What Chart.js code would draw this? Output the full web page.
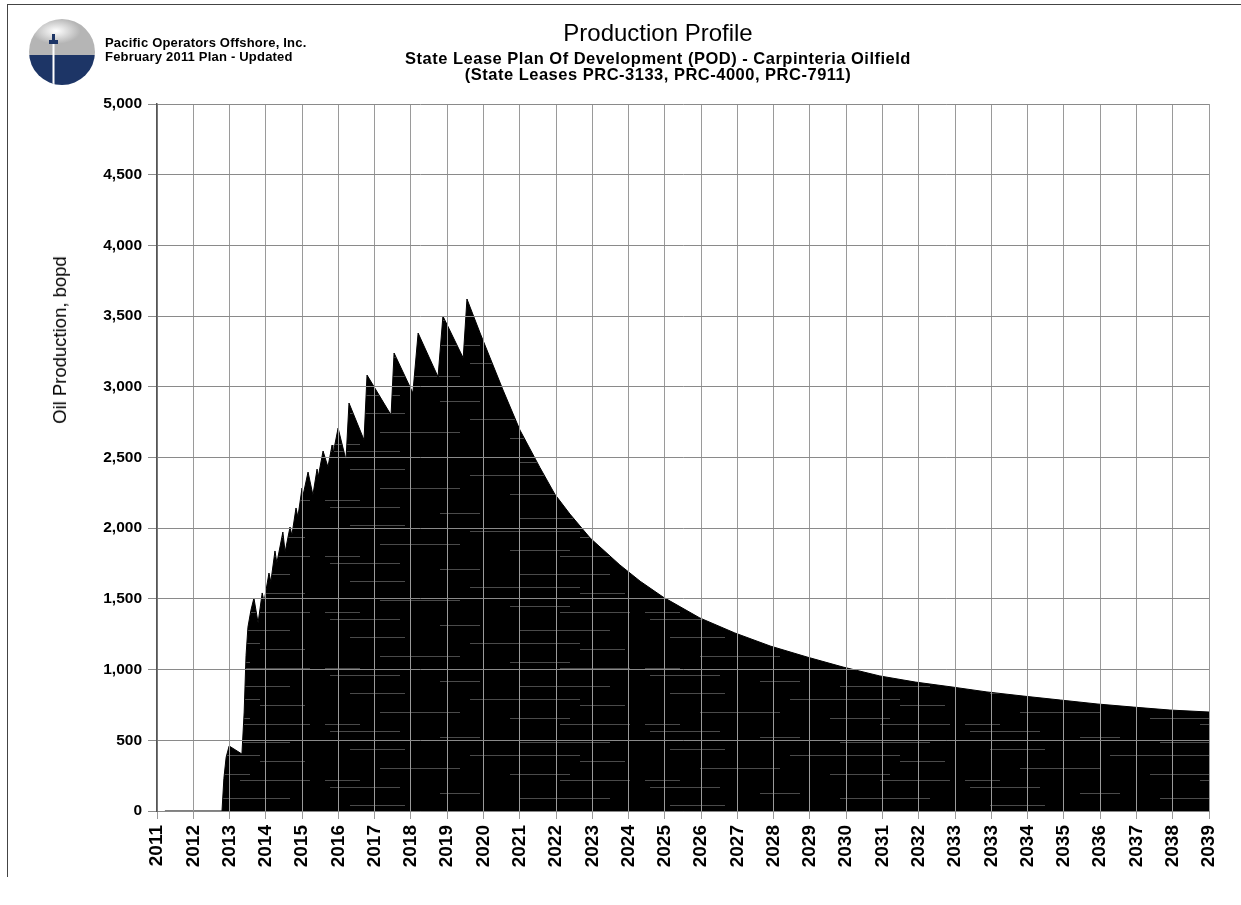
<!DOCTYPE html>
<html>
<head>
<meta charset="utf-8">
<title>Production Profile</title>
<script src="https://cdn.jsdelivr.net/npm/chart.js@4/dist/chart.umd.min.js"></script>
<style>
  html, body { margin: 0; padding: 0; background: #fff; }
  body { width: 1241px; height: 905px; position: relative; overflow: hidden;
         font-family: 'Liberation Sans', Arial, sans-serif; color: #000; }
  #frame { position: absolute; left: 7px; top: 4px; width: 1240px; height: 872px;
           border-left: 1px solid #444; border-top: 1px solid #444; }
  #chart { position: absolute; left: 0; top: 0; }
  .hdr { position: absolute; white-space: nowrap; }
  #company { left: 105px; top: 36px; font-size: 13px; font-weight: bold; line-height: 14px; letter-spacing: 0.2px; }
  #titles { left: 0; width: 1316px; top: 20px; text-align: center; }
  #titles .main { font-size: 24px; line-height: 26px; margin-bottom: 4px; }
  #titles .sub { font-size: 16.5px; font-weight: bold; line-height: 16px; letter-spacing: 0.5px; }
  #ylabel { left: 60px; top: 340px; font-size: 18.5px; transform: translate(-50%, -50%) rotate(-90deg); }
  #logo { position: absolute; left: 28px; top: 18px; }
</style>
</head>
<body>
<div id="frame"></div>
<canvas id="chart" width="1241" height="905"></canvas>

<svg id="logo" width="70" height="70" viewBox="0 0 70 70">
  <defs>
    <clipPath id="disc"><circle cx="34" cy="34" r="33"/></clipPath>
    <radialGradient id="glow" cx="0.4" cy="0.35" r="0.35">
      <stop offset="0" stop-color="#fff"/>
      <stop offset="1" stop-color="#b5b5b5"/>
    </radialGradient>
  </defs>
  <g clip-path="url(#disc)">
    <rect x="0" y="0" width="70" height="37" fill="url(#glow)"/>
    <rect x="0" y="37" width="70" height="33" fill="#1d3566"/>
    <rect x="24.5" y="24" width="2" height="44" fill="#fff"/>
    <rect x="21" y="22" width="9" height="4" fill="#1d3566"/>
    <rect x="24" y="16" width="3" height="6" fill="#1d3566"/>
  </g>
</svg>

<div class="hdr" id="company">Pacific Operators Offshore, Inc.<br>February 2011 Plan - Updated</div>
<div class="hdr" id="titles">
  <div class="main">Production Profile</div>
  <div class="sub">State Lease Plan Of Development (POD) - Carpinteria Oilfield</div>
  <div class="sub">(State Leases PRC-3133, PRC-4000, PRC-7911)</div>
</div>
<div class="hdr" id="ylabel">Oil Production, bopd</div>

<script>
// Axis tick labels as printed (the date axis repeats 2033)
const tickLabels = ['2011', '2012', '2013', '2014', '2015', '2016', '2017', '2018', '2019', '2020',
  '2021', '2022', '2023', '2024', '2025', '2026', '2027', '2028', '2029', '2030',
  '2031', '2032', '2033', '2033', '2034', '2035', '2036', '2037', '2038', '2039'];
const yTicks = [0, 500, 1000, 1500, 2000, 2500, 3000, 3500, 4000, 4500, 5000];

// Production profile (decimal year, bopd)
const years = [2011.21, 2012.73, 2012.78, 2012.84, 2012.92, 2013.26, 2013.32, 2013.37, 2013.42, 2013.50,
  2013.58, 2013.69, 2013.80, 2013.85, 2013.98, 2014.03, 2014.14, 2014.19, 2014.35, 2014.41,
  2014.54, 2014.59, 2014.70, 2014.75, 2014.86, 2014.89, 2015.02, 2015.15, 2015.26, 2015.29,
  2015.42, 2015.55, 2015.66, 2015.68, 2015.82, 2016.03, 2016.11, 2016.51, 2016.59, 2017.23,
  2017.31, 2017.81, 2017.95, 2018.48, 2018.61, 2019.15, 2019.25, 2019.60, 2020.21, 2020.66,
  2021.19, 2021.59, 2021.99, 2022.53, 2023.32, 2023.86, 2024.47, 2025.45, 2026.38, 2027.32,
  2028.30, 2029.26, 2030.24, 2031.18, 2032.16, 2033.09, 2034.05, 2035.04, 2036.02, 2036.98,
  2037.96, 2039.00];
const oilRate = [0, 0, 230, 380, 460, 403, 700, 1100, 1300, 1420,
  1506, 1330, 1542, 1480, 1683, 1620, 1839, 1754, 1973, 1832,
  2008, 1950, 2143, 2079, 2284, 2235, 2397, 2235, 2418, 2362,
  2546, 2433, 2588, 2518, 2708, 2482, 2885, 2624, 3083, 2800,
  3239, 2956, 3380, 3070, 3500, 3204, 3621, 3380, 2977, 2694,
  2430, 2240, 2100, 1930, 1740, 1625, 1513, 1365, 1259, 1167,
  1089, 1018, 955, 912, 877, 842, 813, 785, 757, 735,
  714, 700];

const xMin = 2011;
const xMax = 2039;

const fontFamily = "'Liberation Sans', Arial, sans-serif";

// Black fill with faint grey streaks, like the scanned original
function streakPattern() {
  const c = document.createElement('canvas');
  c.width = 320;
  c.height = 56;
  const g = c.getContext('2d');
  g.fillStyle = '#000';
  g.fillRect(0, 0, c.width, c.height);
  g.fillStyle = '#4a4a4a';
  const streaks = [[10, 3, 70], [120, 9, 40], [200, 14, 90], [30, 21, 55], [150, 27, 110],
    [260, 33, 45], [60, 40, 80], [190, 46, 60], [5, 52, 35], [240, 52, 70]];
  streaks.forEach(([x, y, w]) => g.fillRect(x, y, w, 1));
  return g.createPattern(c, 'repeat');
}

new Chart(document.getElementById('chart'), {
  type: 'line',
  data: {
    datasets: [{
      label: 'Oil Production',
      data: years.map((x, i) => ({ x: x, y: oilRate[i] })),
      fill: 'origin',
      backgroundColor: streakPattern(),
      borderColor: '#000',
      borderWidth: 1,
      pointRadius: 0,
      tension: 0
    }]
  },
  options: {
    responsive: false,
    devicePixelRatio: 1,
    animation: false,
    layout: { padding: { left: 0, right: 32, top: 104, bottom: 0 } },
    plugins: { legend: { display: false }, tooltip: { enabled: false } },
    scales: {
      x: {
        type: 'linear',
        min: xMin,
        max: xMax,
        afterBuildTicks: scale => {
          const n = tickLabels.length - 1;
          scale.ticks = tickLabels.map((_, i) => ({ value: xMin + i * (xMax - xMin) / n }));
        },
        afterFit: scale => { scale.height = 94; },
        grid: { color: '#9a9a9a', lineWidth: 1, tickLength: 8, z: 1 },
        border: { color: '#888', width: 1, z: 2 },
        ticks: {
          autoSkip: false,
          maxRotation: 90,
          minRotation: 90,
          padding: 6,
          color: '#000',
          font: { family: fontFamily, size: 19, weight: 'bold' },
          callback: (value, index) => tickLabels[index]
        }
      },
      y: {
        min: 0,
        max: 5000,
        afterBuildTicks: scale => { scale.ticks = yTicks.map(v => ({ value: v })); },
        afterFit: scale => { scale.width = 157; },
        grid: { color: '#8a8a8a', lineWidth: 1, tickLength: 9, z: 1 },
        border: { color: '#555', width: 1.5, z: 2 },
        ticks: {
          padding: 6,
          color: '#000',
          font: { family: fontFamily, size: 15.5, weight: 'bold' },
          callback: value => value.toLocaleString('en-US')
        }
      }
    }
  }
});
</script>
</body>
</html>
